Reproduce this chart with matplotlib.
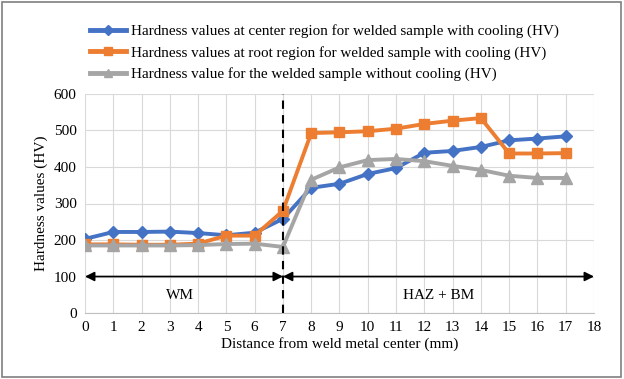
import matplotlib
matplotlib.use("Agg")
import matplotlib.pyplot as plt
from matplotlib.lines import Line2D
from matplotlib.patches import Rectangle

plt.rcParams['font.family'] = ['Liberation Serif', 'DejaVu Serif']

distance = list(range(18))
center_hv = [203, 222, 222, 223, 219, 213, 220, 258, 343, 354, 381, 397, 439, 444, 455, 473, 478, 484]
root_hv = [188, 188, 187, 187, 190, 212, 212, 280, 493, 495, 498, 505, 518, 527, 534, 437, 437, 438]
nocool_hv = [185, 185, 185, 185, 186, 189, 190, 181, 365, 399, 419, 422, 416, 403, 392, 376, 370, 370]

labels = ["Hardness values at center region for welded sample with cooling (HV)",
          "Hardness values at root region for welded sample with cooling (HV)",
          "Hardness value for the welded sample without cooling (HV)"]
colors = ["#4472C4", "#ED7D31", "#A5A5A5"]
markers = ["D", "s", "^"]
msizes = [6.5, 7.5, 8]
xticks = list(range(19))
yticks = [0, 100, 200, 300, 400, 500, 600]

fig = plt.figure(figsize=(6.24, 3.79), dpi=100)
ax = fig.add_axes([85/624, 1-313/379, (594-85)/624, (313-94)/379])

series = [center_hv, root_hv, nocool_hv]
for vals, c, m, ms in zip(series, colors, markers, msizes):
    ax.plot(distance, vals, color=c, marker=m, markersize=ms, linewidth=2.8, zorder=3)

ax.set_xlim(0, 18)
ax.set_ylim(0, 600)
ax.set_xticks(xticks)
ax.set_yticks(yticks)
ax.grid(True, color="#D9D9D9", linewidth=0.8)
ax.set_axisbelow(True)
for s in ["top", "right", "left"]:
    ax.spines[s].set_visible(False)
ax.spines["bottom"].set_color("#BFBFBF")
ax.tick_params(length=0, labelsize=11, pad=6)
ax.set_xlabel("Distance from weld metal center (mm)", fontsize=11, labelpad=2)
ax.set_ylabel("Hardness values (HV)", fontsize=11, labelpad=4)

ax.axvline(7, color="black", linestyle=(0, (4, 3)), linewidth=1.5, zorder=4)
ax.annotate("", xy=(0, 100), xytext=(7, 100),
            arrowprops=dict(arrowstyle="<|-|>", color="black", lw=1.2, mutation_scale=14, shrinkA=0, shrinkB=0))
ax.annotate("", xy=(7, 100), xytext=(18, 100),
            arrowprops=dict(arrowstyle="<|-|>", color="black", lw=1.2, mutation_scale=14, shrinkA=0, shrinkB=0))
ax.text(3.35, 48, "WM", ha="center", va="center", fontsize=11)
ax.text(12.5, 48, "HAZ + BM", ha="center", va="center", fontsize=11)

handles = [Line2D([0], [0], color=c, marker=m, markersize=ms * 0.75, linewidth=3.5)
           for c, m, ms in zip(colors, markers, msizes)]
fig.legend(handles, labels, loc="upper left", bbox_to_anchor=(78/624, 1-12/379),
           frameon=False, fontsize=10.9, handlelength=2.4, handletextpad=0.28, labelspacing=0.5,
           borderpad=0.3)

fig.patches.append(Rectangle((0.003, 0.004), 0.992, 0.99, transform=fig.transFigure,
                             fill=False, edgecolor="#7F7F7F", linewidth=1.2))
fig.savefig("out.png", dpi=100)
